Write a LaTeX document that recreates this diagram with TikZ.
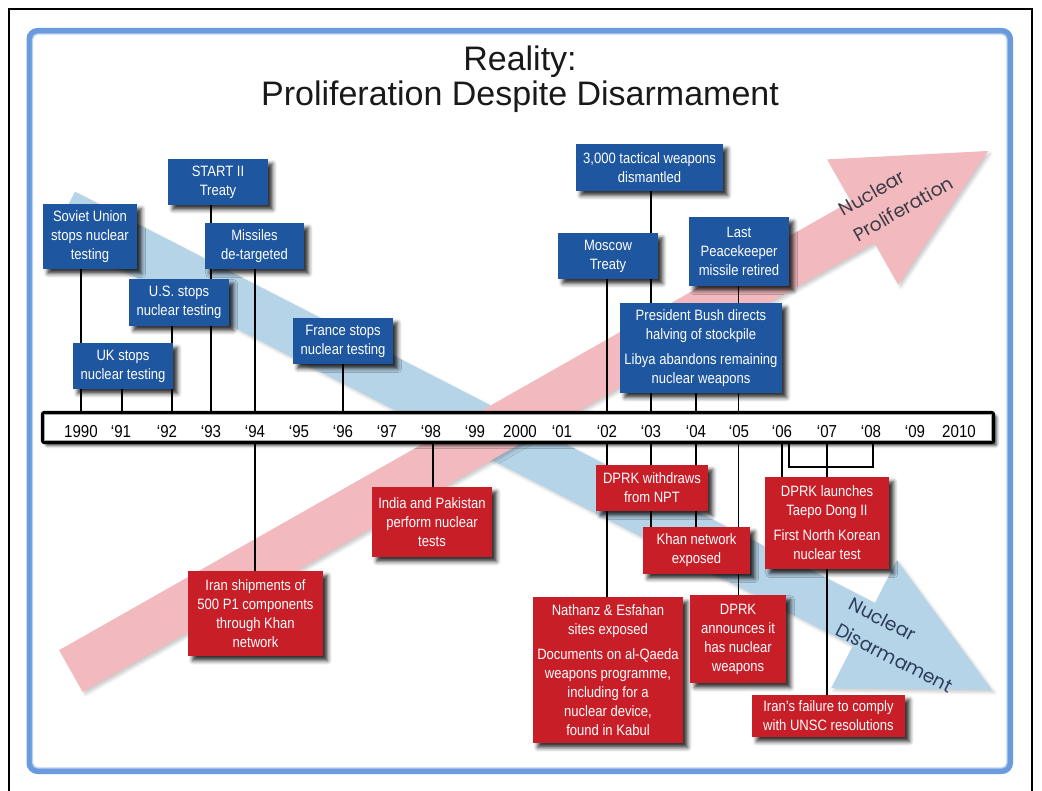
\documentclass[tikz,border=0pt]{standalone}
\usepackage{fontspec}
\setmainfont{Liberation Sans}
\newfontfamily\narrowfont[FakeStretch=0.87]{Liberation Sans}
\newfontfamily\geofont{Poppins}
\usetikzlibrary{shadows.blur}
\definecolor{boxblue}{RGB}{30,86,160}
\definecolor{boxred}{RGB}{200,30,40}
\definecolor{bandblue}{RGB}{182,212,232}
\definecolor{bandred}{RGB}{242,186,190}
\definecolor{framecol}{RGB}{105,155,222}
\definecolor{bluelabel}{RGB}{44,62,92}
\definecolor{redlabel}{RGB}{60,60,72}
\tikzset{
  wh/.style 2 args={minimum width=#1*0.75pt, minimum height=#2*0.75pt},
  ev/.style={font=\narrowfont\fontsize{11.25}{14.25}\selectfont, text=white, align=center, inner sep=0pt,
    blur shadow={shadow xshift=3.5pt, shadow yshift=-3.5pt, shadow blur radius=3pt, shadow opacity=80}},
  bev/.style={ev, fill=boxblue},
  rev/.style={ev, fill=boxred},
  yr/.style={font=\narrowfont\fontsize{13}{14}\selectfont, anchor=base, inner sep=0pt},
  conn/.style={draw=black, line width=0.8pt},
  tbar/.style={draw=black, line width=2.5pt, fill=white, rounded corners=1.5pt, inner sep=0pt,
    blur shadow={shadow xshift=2.5pt, shadow yshift=-2.5pt, shadow blur radius=2pt, shadow opacity=70}},
  bandlabel/.style={font=\geofont\fontsize{14}{22}\selectfont, align=left, inner sep=0pt}
}
\begin{document}
\begin{tikzpicture}[x=0.75pt, y=-0.75pt]
\useasboundingbox (0,0) rectangle (1042,791);
% frames
\draw[line width=0.8pt] (9,791) -- (9,9) -- (1032,9) -- (1032,791);
\draw[framecol, line width=4.5pt, rounded corners=6pt] (29.5,31) rectangle (1010,771);
\draw[framecol!45, line width=1pt, rounded corners=4pt] (32.5,34) rectangle (1007,768);
% title
\node[font=\fontsize{25.5}{26}\selectfont, anchor=base, text=black!90] (t1) at (520,71) {Reality:};
\node[font=\fontsize{25.5}{26}\selectfont, anchor=base, text=black!90] (t2) at (520,106) {Proliferation Despite Disarmament};
% bands
\fill[bandblue, blur shadow={shadow xshift=2pt, shadow yshift=-2pt, shadow opacity=20}]
  (75,191.7) -- (874.9,602.9) -- (896.8,560.2) -- (992,690) -- (831,688.2) -- (852.9,645.5) -- (53,234.3) -- cycle;
\fill[bandred, blur shadow={shadow xshift=2pt, shadow yshift=-2pt, shadow opacity=20}]
  (59.2,650.1) -- (850.9,201.1) -- (827.2,159.4) -- (988,151) -- (898.2,284.6) -- (874.5,242.9) -- (82.8,691.9) -- cycle;
\node[bandlabel, text=redlabel, rotate=29.6] (lprol) at (896,196) {Nuclear\\Proliferation};
\node[bandlabel, text=bluelabel, rotate=-27.2] (ldis) at (901,645) {Nuclear\\Disarmament};
% line positions
\coordinate (l90) at (81,0);
\coordinate (l91) at (122,0);
\coordinate (l92) at (172,0);
\coordinate (l93) at (211,0);
\coordinate (l94) at (255,0);
\coordinate (l96) at (343,0);
\coordinate (l98) at (433,0);
\coordinate (l02) at (607,0);
\coordinate (l03) at (651,0);
\coordinate (l04) at (696,0);
\coordinate (l05) at (738.5,0);
\coordinate (l06) at (782,0);
\coordinate (l06b) at (789,0);
\coordinate (l07) at (827,0);
\coordinate (l08) at (873,0);
\coordinate (bk) at (0,467);
% bar (named, drawn later on top of lines)
\path (518,427.5) node[wh={951}{30}, inner sep=0pt] (bar) {};
% box positions
\path
 (218,182) node[wh={100}{46}] (start) {}
 (90,236.5) node[wh={94}{65}] (soviet) {}
 (254.5,246) node[wh={99}{46}] (missiles) {}
 (179,302.5) node[wh={100}{47}] (us) {}
 (343,341) node[wh={100}{46}] (france) {}
 (123,366) node[wh={100}{46}] (uk) {}
 (649.5,167.5) node[wh={147}{47}] (tactical) {}
 (608,256) node[wh={100}{46}] (moscow) {}
 (739,251.5) node[wh={100}{69}] (peace) {}
 (701,348) node[wh={162}{90}] (bush) {}
 (432,522) node[wh={120}{70}] (india) {}
 (255.5,613.5) node[wh={135}{85}] (iranship) {}
 (652,488) node[wh={112}{46}] (withdraws) {}
 (696.5,550.5) node[wh={107}{47}] (khan) {}
 (827,523) node[wh={124}{92}] (launch) {}
 (608,670) node[wh={150}{146}] (nathanz) {}
 (738,639) node[wh={96}{88}] (announce) {}
 (828.5,716) node[wh={153}{42}] (iranfail) {};
% connectors above bar
\draw[conn] (soviet.south -| l90) -- (bar.north -| l90);
\draw[conn] (uk.south -| l91) -- (bar.north -| l91);
\draw[conn] (us.south -| l92) -- (bar.north -| l92);
\draw[conn] (start.south -| l93) -- (bar.north -| l93);
\draw[conn] (missiles.south -| l94) -- (bar.north -| l94);
\draw[conn] (france.south -| l96) -- (bar.north -| l96);
\draw[conn] (moscow.south -| l02) -- (bar.north -| l02);
\draw[conn] (tactical.south -| l03) -- (bar.north -| l03);
\draw[conn] (bush.south -| l04) -- (bar.north -| l04);
\draw[conn] (peace.south -| l05) -- (bar.north -| l05);
% connectors below bar
\draw[conn] (bar.south -| l94) -- (iranship.north -| l94);
\draw[conn] (bar.south -| l98) -- (india.north -| l98);
\draw[conn] (bar.south -| l02) -- (nathanz.north -| l02);
\draw[conn] (bar.south -| l03) -- (khan.north -| l03);
\draw[conn] (bar.south -| l04) -- (khan.north -| l04);
\draw[conn] (bar.south -| l05) -- (announce.north -| l05);
\draw[conn] (bar.south -| l06) -- (launch.north -| l06);
\draw[conn] (bar.south -| l06b) -- (bk -| l06b) -- (bk -| l08) -- (bar.south -| l08);
\draw[conn] (bar.south -| l07) -- (iranfail.north -| l07);
% timeline bar
\node[tbar, wh={951}{30}] at (bar.center) {};
\draw[black!35, line width=0.6pt] ([shift={(1.7pt,-1.7pt)}]bar.north west) rectangle ([shift={(-1.7pt,1.7pt)}]bar.south east);
\node[yr] (y1990) at (81,437) {1990};
\node[yr] (y1991) at (121,437) {‘91};
\node[yr] (y1992) at (167,437) {‘92};
\node[yr] (y1993) at (211,437) {‘93};
\node[yr] (y1994) at (255,437) {‘94};
\node[yr] (y1995) at (299,437) {‘95};
\node[yr] (y1996) at (343,437) {‘96};
\node[yr] (y1997) at (387,437) {‘97};
\node[yr] (y1998) at (431,437) {‘98};
\node[yr] (y1999) at (475,437) {‘99};
\node[yr] (y2000) at (520,437) {2000};
\node[yr] (y2001) at (562,437) {‘01};
\node[yr] (y2002) at (607,437) {‘02};
\node[yr] (y2003) at (651,437) {‘03};
\node[yr] (y2004) at (696,437) {‘04};
\node[yr] (y2005) at (739,437) {‘05};
\node[yr] (y2006) at (782,437) {‘06};
\node[yr] (y2007) at (827,437) {‘07};
\node[yr] (y2008) at (871,437) {‘08};
\node[yr] (y2009) at (915,437) {‘09};
\node[yr] (y2010) at (959,437) {2010};
% blue boxes
\node[bev, wh={100}{46}] at (start.center) {START II\\Treaty};
\node[bev, wh={94}{65}] at (soviet.center) {Soviet Union\\stops nuclear\\testing};
\node[bev, wh={99}{46}] at (missiles.center) {Missiles\\de-targeted};
\node[bev, wh={100}{47}] at (us.center) {U.S. stops\\nuclear testing};
\node[bev, wh={100}{46}] at (france.center) {France stops\\nuclear testing};
\node[bev, wh={100}{46}] at (uk.center) {UK stops\\nuclear testing};
\node[bev, wh={147}{47}] at (tactical.center) {3,000 tactical weapons\\dismantled};
\node[bev, wh={100}{46}] at (moscow.center) {Moscow\\Treaty};
\node[bev, wh={100}{69}] at (peace.center) {Last\\Peacekeeper\\missile retired};
\node[bev, wh={162}{90}] at (bush.center) {President Bush directs\\halving of stockpile\\[4.5pt]Libya abandons remaining\\nuclear weapons};
% red boxes
\node[rev, wh={120}{70}] at (india.center) {India and Pakistan\\perform nuclear\\tests};
\node[rev, wh={135}{85}] at (iranship.center) {Iran shipments of\\500 P1 components\\through Khan\\network};
\node[rev, wh={112}{46}] at (withdraws.center) {DPRK withdraws\\from NPT};
\node[rev, wh={107}{47}] at (khan.center) {Khan network\\exposed};
\node[rev, wh={124}{92}] at (launch.center) {DPRK launches\\Taepo Dong II\\[4.5pt]First North Korean\\nuclear test};
\node[rev, wh={150}{146}] at (nathanz.center) {Nathanz \& Esfahan\\sites exposed\\[4.5pt]Documents on al-Qaeda\\weapons programme,\\including for a\\nuclear device,\\found in Kabul};
\node[rev, wh={96}{88}] at (announce.center) {DPRK\\announces it\\has nuclear\\weapons};
\node[rev, wh={153}{42}] at (iranfail.center) {Iran’s failure to comply\\with UNSC resolutions};
\end{tikzpicture}
\end{document}
